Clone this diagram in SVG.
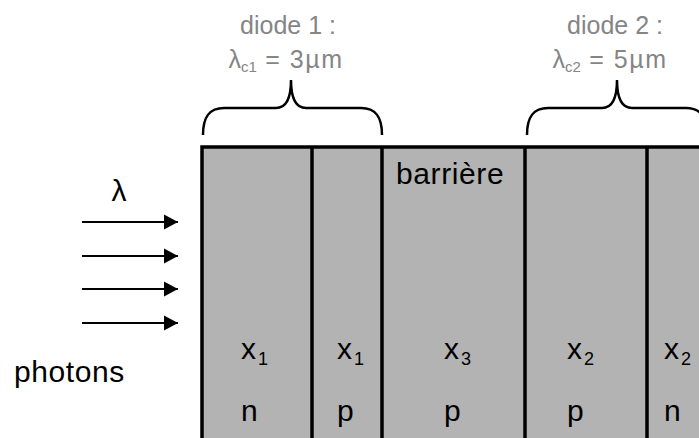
<svg xmlns="http://www.w3.org/2000/svg" width="699" height="438" viewBox="0 0 699 438">
<style>
  text { font-family: "Liberation Sans", Arial, sans-serif; }
  .blk { fill: #000; font-size: 30px; }
  .wide { letter-spacing: 0.6px; }
  .gry { fill: #858585; font-size: 25px; }
  .gsp { letter-spacing: 1.5px; }
  .sub { font-size: 18px; }
  .gsub { font-size: 15px; }
  .brace { fill: none; stroke: #000; stroke-width: 2.5; }
  .layer { fill: #b3b3b3; stroke: #000; stroke-width: 3.5; }
  .div { stroke: #000; stroke-width: 3.5; }
  .ray { stroke: #000; stroke-width: 2; marker-end: url(#ah); }
</style>
<defs>
  <marker id="ah" markerUnits="userSpaceOnUse" markerWidth="16" markerHeight="16" viewBox="0 0 16 16" refX="14" refY="8" orient="auto">
    <path d="M0,0.5 L14,8 L0,15.5 Z" fill="#000"/>
  </marker>
</defs>
<rect width="699" height="438" fill="#fff"/>

<g id="stack">
  <rect class="layer" x="202" y="147" width="540" height="320"/>
  <line class="div" x1="312" y1="147" x2="312" y2="440"/>
  <line class="div" x1="382" y1="147" x2="382" y2="440"/>
  <line class="div" x1="525" y1="147" x2="525" y2="440"/>
  <line class="div" x1="647" y1="147" x2="647" y2="440"/>
</g>

<g id="diode1">
  <path class="brace" d="M203,135 C203,117 209,108 224,108 L276,108 C285,108 291,100 291,80 C291,100 297,108 306,108 L361,108 C376,108 382,117 382,135"/>
  <text class="gry" x="288" y="34" text-anchor="middle">diode 1 :</text>
  <text class="gry" x="286" y="68" text-anchor="middle">λ<tspan class="gsub" dy="4">c1</tspan><tspan class="gsp" dy="-4"> = 3µm</tspan></text>
</g>

<g id="diode2">
  <path class="brace" d="M527,135 C527,117 533,108 548,108 L602,108 C611,108 617,100 617,80 C617,100 623,108 632,108 L686,108 C701,108 707,117 707,135"/>
  <text class="gry" x="615" y="34" text-anchor="middle">diode 2 :</text>
  <text class="gry" x="610" y="68" text-anchor="middle">λ<tspan class="gsub" dy="4">c2</tspan><tspan class="gsp" dy="-4"> = 5µm</tspan></text>
</g>

<g id="col1">
  <text class="blk" x="241" y="359">x<tspan class="sub" dx="2" dy="6">1</tspan></text>
  <text class="blk" x="241" y="421">n</text>
</g>
<g id="col2">
  <text class="blk" x="337" y="359">x<tspan class="sub" dx="2" dy="6">1</tspan></text>
  <text class="blk" x="337" y="421">p</text>
</g>
<g id="col3">
  <text class="blk wide" x="396" y="184">barrière</text>
  <text class="blk" x="444" y="359">x<tspan class="sub" dx="2" dy="6">3</tspan></text>
  <text class="blk" x="444" y="421">p</text>
</g>
<g id="col4">
  <text class="blk" x="567" y="359">x<tspan class="sub" dx="2" dy="6">2</tspan></text>
  <text class="blk" x="567" y="421">p</text>
</g>
<g id="col5">
  <text class="blk" x="664" y="359">x<tspan class="sub" dx="2" dy="6">2</tspan></text>
  <text class="blk" x="664" y="421">n</text>
</g>

<g id="photons">
  <text class="blk" x="119" y="201" text-anchor="middle" font-size="25">λ</text>
  <text class="blk wide" x="14" y="382">photons</text>
</g>

<g id="connectors">
  <line class="ray" x1="82" y1="222" x2="178" y2="222"/>
  <line class="ray" x1="82" y1="256" x2="178" y2="256"/>
  <line class="ray" x1="82" y1="289" x2="178" y2="289"/>
  <line class="ray" x1="82" y1="323" x2="178" y2="323"/>
</g>
</svg>
